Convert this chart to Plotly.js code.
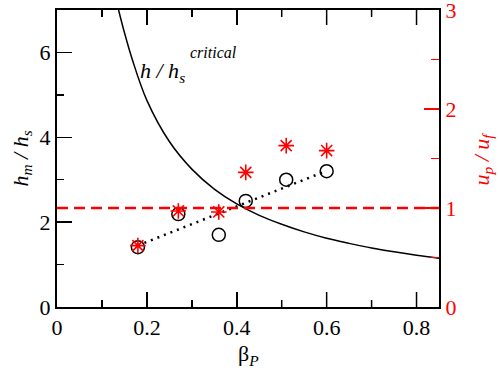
<!DOCTYPE html>
<html>
<head>
<meta charset="utf-8">
<script src="https://cdn.plot.ly/plotly-3.0.1.min.js"></script>
<style>html,body{margin:0;padding:0;background:#fff;}#chart{width:499px;height:371px;}#prime{position:absolute;left:0;top:0;font-family:'Times New Roman',Times,serif;font-size:22px;color:transparent;}</style>
</head>
<body>
<span id="prime">&nbsp;</span>
<div id="chart"></div>
<script>
// Measured data (circles, left axis h_m/h_s)
const betaP = [0.18, 0.27, 0.36, 0.42, 0.51, 0.60];
const hmOverHs = [1.41, 2.19, 1.70, 2.50, 3.00, 3.20];
// Velocity ratio (stars, right axis u_p/u_f)
const upOverUf = [0.62, 0.97, 0.96, 1.36, 1.63, 1.58];
// Dotted fit line endpoints
const fitX = [0.18, 0.60];
const fitY = [1.45, 3.21];
// Critical curve h/h_s
const critX = [0.137, 0.15, 0.167, 0.20, 0.25, 0.30, 0.35, 0.40, 0.45, 0.50, 0.55, 0.60, 0.65, 0.70, 0.75, 0.80, 0.85];
const critY = [7.00, 6.47, 5.85, 4.87, 3.90, 3.25, 2.78, 2.43, 2.16, 1.95, 1.77, 1.62, 1.50, 1.39, 1.30, 1.22, 1.15];
// Reference line u_p/u_f = 1
const refX = [0, 0.85];
const refY = [1, 1];
// x-axis tick positions
const xMajorTicks = [0.2, 0.4, 0.6, 0.8];
const xMinorTicks = [0.1, 0.3, 0.5, 0.7];

const FONT = 'Times New Roman, Times, serif';

const traces = [
  {x: critX, y: critY, mode: 'lines', line: {color: 'black', width: 1.5, shape: 'spline'}},
  {x: fitX, y: fitY, mode: 'lines', line: {color: 'black', width: 2.5, dash: '2px,5px'}},
  {x: betaP, y: hmOverHs, mode: 'markers', marker: {symbol: 'circle-open', size: 13, color: 'black', line: {width: 1.5, color: 'black'}}},
  {x: refX, y: refY, mode: 'lines', line: {color: 'red', width: 2.5, dash: '11px,6px'}, yaxis: 'y2'},
  {x: betaP, y: upOverUf, mode: 'markers', marker: {symbol: 'asterisk-open', size: 13, color: 'red', line: {width: 1.6, color: 'red'}}, yaxis: 'y2'}
];

// tick marks on bottom and top frame edges
const shapes = [];
function addTicks(vals, len) {
  vals.forEach(v => {
    shapes.push({type: 'line', xref: 'x', yref: 'paper', ysizemode: 'pixel', yanchor: 0, x0: v, x1: v, y0: 0, y1: len, line: {color: 'black', width: 1.5}});
    shapes.push({type: 'line', xref: 'x', yref: 'paper', ysizemode: 'pixel', yanchor: 1, x0: v, x1: v, y0: 0, y1: -len, line: {color: 'black', width: 1.5}});
  });
}
addTicks(xMajorTicks, 15);
addTicks(xMinorTicks, 7);

const layout = {
  width: 499, height: 371, margin: {l: 57, r: 60, t: 10, b: 64}, showlegend: false,
  paper_bgcolor: 'white', plot_bgcolor: 'white',
  font: {family: FONT, size: 22, color: 'black'},
  xaxis: {range: [0, 0.85], dtick: 0.2, tick0: 0, ticks: 'inside', ticklen: 15, tickwidth: 1.5, showline: true, linewidth: 2, mirror: 'ticks',
    linecolor: 'black', tickcolor: 'black', showgrid: false, zeroline: false,
    minor: {dtick: 0.1, ticks: 'inside', ticklen: 7, tickwidth: 1.5, tickcolor: 'black'}},
  yaxis: {range: [0, 7], dtick: 2, tick0: 0, ticks: 'inside', ticklen: 15, tickwidth: 1.5, showline: true, linewidth: 2,
    linecolor: 'black', tickcolor: 'black', showgrid: false, zeroline: false,
    minor: {dtick: 1, ticks: 'inside', ticklen: 7, tickwidth: 1.5, tickcolor: 'black'}},
  yaxis2: {overlaying: 'y', side: 'right', range: [0, 3], dtick: 1, tick0: 0, ticks: 'inside', ticklen: 15, tickwidth: 1.5, tickcolor: 'red',
    showline: true, linewidth: 2, linecolor: 'black', showgrid: false, zeroline: false,
    minor: {dtick: 0.5, ticks: 'inside', ticklen: 8, tickwidth: 1.5, tickcolor: 'red'},
    tickfont: {color: 'red'}, ticklabeloverflow: 'allow'},
  shapes: shapes,
  annotations: [
    {xref: 'paper', yref: 'paper', x: 0, y: 0.5, xshift: -36, textangle: -90, showarrow: false,
     text: '<i>h<sub>m</sub> / h<sub>s</sub></i>', xanchor: 'center', yanchor: 'middle'},
    {xref: 'paper', yref: 'paper', x: 1, y: 0.5, xshift: 43, textangle: -90, showarrow: false,
     text: '<i>u<sub>p</sub> / u<sub>f</sub></i>', font: {color: 'red'}, xanchor: 'center', yanchor: 'middle'},
    {xref: 'paper', yref: 'paper', x: 0.5, y: 0, yshift: -48, showarrow: false,
     text: 'β<sub><i>P</i></sub>', xanchor: 'center', yanchor: 'middle'},
    {xref: 'x', yref: 'y', x: 0.18, y: 5.55, showarrow: false, xanchor: 'left', yanchor: 'middle',
     text: '<i>h / h<sub>s</sub></i>'},
    {xref: 'x', yref: 'y', x: 0.292, y: 6.0, showarrow: false, xanchor: 'left', yanchor: 'middle',
     text: '<i>critical</i>', font: {size: 16}}
  ]
};

Plotly.newPlot('chart', traces, layout, {displayModeBar: false, staticPlot: true});
</script>
</body>
</html>
